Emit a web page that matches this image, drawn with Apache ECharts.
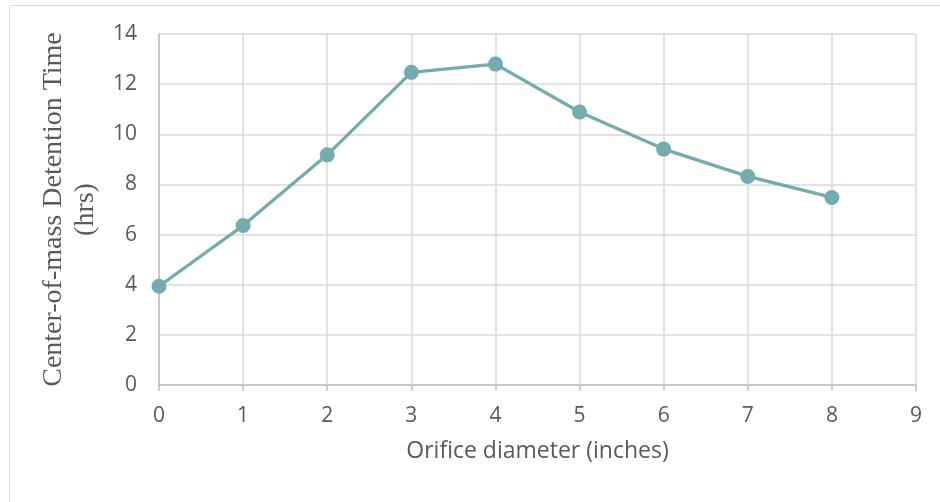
<!DOCTYPE html>
<html>
<head>
<meta charset="utf-8">
<script src="https://cdn.jsdelivr.net/npm/echarts@6/dist/echarts.min.js"></script>
<style>
html,body{margin:0;padding:0;background:#fff;}
#c{width:940px;height:502px;}
</style>
</head>
<body>
<div id="c"></div>
<script>
const xValues = [0, 1, 2, 3, 4, 5, 6, 7, 8];
const detentionHrs = [3.94, 6.36, 9.18, 12.47, 12.80, 10.89, 9.41, 8.32, 7.48];
const xAxisTitle = 'Orifice diameter (inches)';
const yAxisTitle = 'Center-of-mass Detention Time\n(hrs)';

const chart = echarts.init(document.getElementById('c'), null, {renderer: 'canvas'});
const tickFont = {color: '#595959', fontSize: 21, fontFamily: 'Open Sans, Noto Sans, sans-serif'};
chart.setOption({
  animation: false,
  backgroundColor: '#fff',
  graphic: [{
    type: 'rect',
    shape: {x: 9.5, y: 5.5, width: 960, height: 520},
    style: {fill: 'none', stroke: '#d9d9d9', lineWidth: 1},
    silent: true
  }],
  grid: {left: 159, right: 24, top: 34, bottom: 117, containLabel: false},
  xAxis: {
    type: 'value', min: 0, max: 9, interval: 1,
    name: xAxisTitle, nameLocation: 'middle', nameGap: 55,
    nameTextStyle: {color: '#595959', fontSize: 23, fontFamily: 'Open Sans, Noto Sans, sans-serif'},
    axisLine: {show: true, lineStyle: {color: '#bfbfbf', width: 1.5}},
    axisTick: {show: true, length: 6, lineStyle: {color: '#bfbfbf', width: 1.5}},
    axisLabel: Object.assign({margin: 21}, tickFont),
    splitLine: {show: true, lineStyle: {color: '#d9d9d9', width: 1.5}}
  },
  yAxis: {
    type: 'value', min: 0, max: 14, interval: 2,
    name: yAxisTitle, nameLocation: 'middle', nameGap: 51,
    nameTextStyle: {color: '#595959', fontSize: 28, fontFamily: 'Liberation Serif, DejaVu Serif, serif', lineHeight: 32},
    axisLine: {show: true, lineStyle: {color: '#bfbfbf', width: 1.5}},
    axisTick: {show: false},
    axisLabel: Object.assign({margin: 22}, tickFont),
    splitLine: {show: true, lineStyle: {color: '#d9d9d9', width: 1.5}}
  },
  series: [{
    type: 'line',
    data: xValues.map((x, i) => [x, detentionHrs[i]]),
    symbol: 'circle', symbolSize: 15,
    itemStyle: {color: '#74abae'},
    lineStyle: {color: '#74abae', width: 3.3},
    z: 5
  }]
});
</script>
</body>
</html>
